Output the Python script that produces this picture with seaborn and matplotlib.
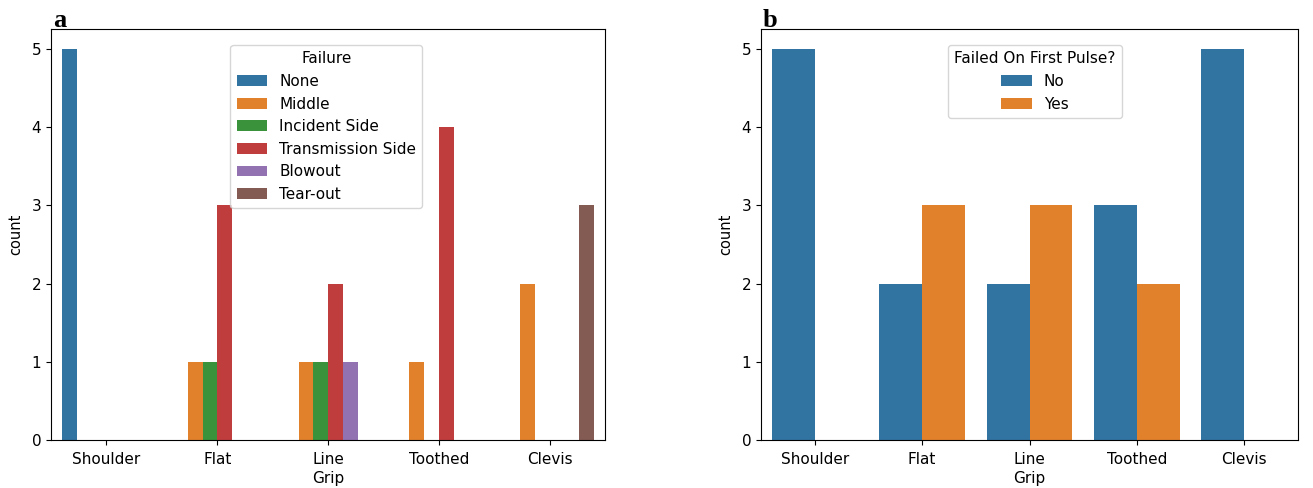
import pandas as pd
import matplotlib.pyplot as plt
import seaborn as sns

grips = ['Shoulder', 'Flat', 'Line', 'Toothed', 'Clevis']
failures = ['None', 'Middle', 'Incident Side', 'Transmission Side', 'Blowout', 'Tear-out']

# counts per grip, one row per failure type (order of `failures`)
fail_counts = {
    'Shoulder': [5, 0, 0, 0, 0, 0],
    'Flat':     [0, 1, 1, 3, 0, 0],
    'Line':     [0, 1, 1, 2, 1, 0],
    'Toothed':  [0, 1, 0, 4, 0, 0],
    'Clevis':   [0, 2, 0, 0, 0, 3],
}

pulse_levels = ['No', 'Yes']
pulse_no = [5, 2, 2, 3, 5]
pulse_yes = [0, 3, 3, 2, 0]

# expand counts into one record per test so countplot can do the counting
rows_a = []
for g in grips:
    for f, n in zip(failures, fail_counts[g]):
        rows_a += [{'Grip': g, 'Failure': f}] * n
df_a = pd.DataFrame(rows_a)

rows_b = []
for g, n_no, n_yes in zip(grips, pulse_no, pulse_yes):
    rows_b += [{'Grip': g, 'Failed On First Pulse?': 'No'}] * n_no
    rows_b += [{'Grip': g, 'Failed On First Pulse?': 'Yes'}] * n_yes
df_b = pd.DataFrame(rows_b)

fs = 11

fig = plt.figure(figsize=(13.13, 4.88), dpi=100)
ax1 = fig.add_axes([0.0389, 0.098, 0.4220, 0.842])
ax2 = fig.add_axes([0.5796, 0.098, 0.4090, 0.842])

sns.countplot(data=df_a, x='Grip', hue='Failure', order=grips, hue_order=failures, ax=ax1)
sns.countplot(data=df_b, x='Grip', hue='Failed On First Pulse?', order=grips,
              hue_order=pulse_levels, ax=ax2)

for ax in (ax1, ax2):
    ax.set_yticks(range(6))
    ax.tick_params(labelsize=fs)
    ax.tick_params(axis='x', pad=5)
    ax.set_xlabel('Grip', fontsize=fs, labelpad=3)
    ax.set_ylabel('count', fontsize=10.5, labelpad=6)

ax1.legend(title='Failure', loc='upper left', bbox_to_anchor=(0.31, 0.98),
           fontsize=fs, title_fontsize=fs)
ax2.legend(title='Failed On First Pulse?', loc='upper left', bbox_to_anchor=(0.334, 0.98),
           fontsize=fs, title_fontsize=fs)

fig.text(0.0404, 0.945, 'a', fontsize=19, fontweight='bold', family='Liberation Serif')
fig.text(0.581, 0.945, 'b', fontsize=19, fontweight='bold', family='Liberation Serif')

fig.savefig('out.png', dpi=100)
